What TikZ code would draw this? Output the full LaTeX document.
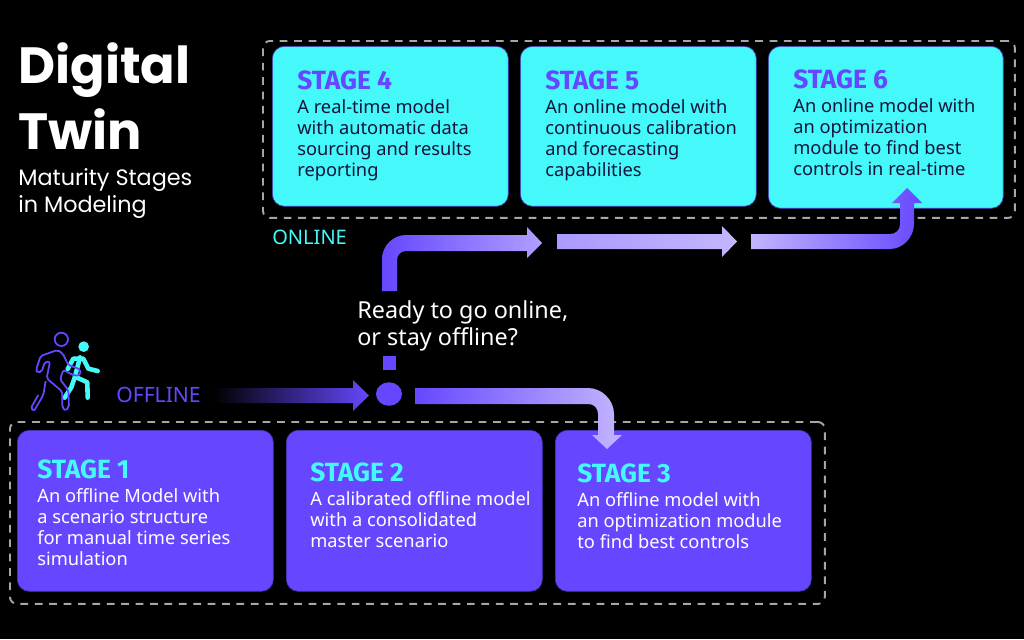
\documentclass[tikz,border=0pt]{standalone}
\usepackage{fontspec}
\usetikzlibrary{shapes.geometric}
\setmainfont{Noto Sans}
\newfontfamily\titlefont{Poppins}
\newfontfamily\headfont{Fira Sans}
\definecolor{twinpurple}{HTML}{6647FF}
\definecolor{twinlight}{HTML}{C4B5FF}
\definecolor{twincyan}{HTML}{45F8FA}
\definecolor{twindark}{HTML}{14143C}
\tikzset{
  offbox/.style={draw=twinpurple!70!black, fill=twinpurple, rounded corners=0.24cm, anchor=north west, inner sep=0pt, minimum height=3.22cm},
  onbox/.style={draw=twinpurple!70!black, fill=twincyan, rounded corners=0.24cm, anchor=north west, inner sep=0pt, minimum height=3.2cm},
  dashbox/.style={draw=black!35!white, line width=1.1pt, dash pattern=on 4.4pt off 3.8pt, rounded corners=0.14cm, anchor=north west, inner sep=0pt},
  stagehead/.style={anchor=base west, inner sep=0pt, font=\headfont\bfseries\fontsize{15}{18}\selectfont},
  stagebody/.style={anchor=north west, inner sep=0pt, align=left, font=\fontsize{10.4}{12}\selectfont},
  flowlabel/.style={anchor=base west, inner sep=0pt, font=\fontsize{12}{14}\selectfont},
}
\begin{document}
\begin{tikzpicture}[x=0.02cm, y=-0.02cm]
\fill[black] (0,0) rectangle (1024,639);
\useasboundingbox (0,0) rectangle (1024,639);
% title
\node[anchor=base west, inner sep=0pt, text=white, font=\titlefont\bfseries\fontsize{29}{34}\selectfont] (title1) at (18,83) {Digital};
\node[anchor=base west, inner sep=0pt, text=white, font=\titlefont\bfseries\fontsize{29}{34}\selectfont] (title2) at (18,149) {Twin};
\node[anchor=north west, inner sep=0pt, align=left, text=white, font=\titlefont\fontsize{12.7}{15.4}\selectfont] (subtitle) at (18,168) {Maturity Stages\\in Modeling};
% dashed frames
\node[dashbox, minimum width=15.04cm, minimum height=3.54cm] (onframe) at (262,40) {};
\node[dashbox, minimum width=16.3cm, minimum height=3.64cm] (offframe) at (9,421) {};
% online stages
\node[onbox, minimum width=4.72cm] (stage4) at (272,46) {};
\node[onbox, minimum width=4.72cm] (stage5) at (520,46) {};
\node[onbox, minimum width=4.7cm, minimum height=3.24cm] (stage6) at (768,46) {};
% offline stages
\node[offbox, minimum width=5.12cm] (stage1) at (17,430) {};
\node[offbox, minimum width=5.12cm] (stage2) at (286,430) {};
\node[offbox, minimum width=5.12cm] (stage3) at (555,430) {};
% stage texts
\node[stagehead, text=twinpurple] (head4) at (297,89) {STAGE 4};
\node[stagebody, text=twindark] (body4) at (297,99) {A real-time model\\with automatic data\\sourcing and results\\reporting};
\node[stagehead, text=twinpurple] (head5) at (545,89) {STAGE 5};
\node[stagebody, text=twindark] (body5) at (545,99) {An online model with\\continuous calibration\\and forecasting\\capabilities};
\node[stagehead, text=twinpurple] (head6) at (793,88) {STAGE 6};
\node[stagebody, text=twindark] (body6) at (793,98) {An online model with\\an optimization\\module to find best\\controls in real-time};
\node[stagehead, text=twincyan] (head1) at (37,478) {STAGE 1};
\node[stagebody, text=white] (body1) at (37,488) {An offline Model with\\a scenario structure\\for manual time series\\simulation};
\node[stagehead, text=twincyan] (head2) at (310,481) {STAGE 2};
\node[stagebody, text=white] (body2) at (310,491) {A calibrated offline model\\with a consolidated\\master scenario};
\node[stagehead, text=twincyan] (head3) at (577,482) {STAGE 3};
\node[stagebody, text=white] (body3) at (577,492) {An offline model with\\an optimization module\\to find best controls};
% labels
\node[flowlabel, text=twinpurple] (offlabel) at (116,402) {OFFLINE};
\node[flowlabel, text=twincyan, font=\fontsize{11.4}{14}\selectfont] (onlabel) at (272,244) {ONLINE};
\node[anchor=north west, inner sep=0pt, align=left, text=white, font=\fontsize{13.3}{15.8}\selectfont] (question) at (357,300) {Ready to go online,\\or stay offline?};
% decision mark
\node[fill=twinpurple, inner sep=0pt, minimum width=0.26cm, minimum height=0.28cm] (qsquare) at (389.5,363) {};
\node[ellipse, fill=twinpurple, inner sep=0pt, minimum width=0.52cm, minimum height=0.47cm] (split) at (389,394) {};
% arrows
\coordinate (offstart) at (213,388);
\coordinate (stayoff) at (415,388);
\coordinate (goon) at (382,291);
\coordinate (onmid) at (557,234);
\coordinate (onlast) at (751,234);
\shade[left color=black, right color=twinpurple]
  (offstart) -- ++(140,0) -- ++(0,-8) -- ++(16,15.5) -- ++(-16,15.5) -- ++(0,-8) -- ++(-140,0) -- cycle;
\shade[left color=twinpurple, right color=twinlight]
  (stayoff) -- ++(173,0) .. controls +(14,0) and +(0,-14) .. ++(26,26) -- ++(0,21) -- ++(8,0) -- ++(-15,14) -- ++(-15,-14) -- ++(6,0) -- ++(0,-21) .. controls +(0,-6) and +(6,0) .. ++(-10,-10) -- ++(-173,0) -- cycle;
\shade[left color=twinpurple, right color=twinlight!80!twinpurple]
  (goon) -- ++(0,-32) .. controls +(0,-13) and +(-13,0) .. ++(24,-24) -- ++(121,0) -- ++(0,-8) -- ++(15,16) -- ++(-15,15) -- ++(0,-7) -- ++(-121,0) .. controls +(-5,0) and +(0,-5) .. ++(-9,9) -- ++(0,31) -- cycle;
\shade[left color=twinlight!75!twinpurple, right color=twinlight]
  (onmid) -- ++(165,0) -- ++(0,-8) -- ++(15,15.5) -- ++(-15,15.5) -- ++(0,-8) -- ++(-165,0) -- cycle;
\shade[left color=twinlight, right color=twinpurple]
  (onlast) -- ++(139,0) .. controls +(6,0) and +(0,6) .. ++(10,-10) -- ++(0,-21) -- ++(-8,0) -- ++(15,-15) -- ++(15,15) -- ++(-8,0) -- ++(0,21) .. controls +(0,13) and +(13,0) .. ++(-24,25) -- ++(-139,0) -- cycle;
% walkers
\begin{scope}[shift={(0,320)}, x=0.00667cm, y=-0.00667cm]
\draw[twincyan, line width=2.6pt, line cap=round, line join=round] (240,112) -- (225,170) -- (262,187) -- (263,233) (225,170) -- (214,202) -- (194,233) (203,147) -- (220,116) -- (250,116) -- (265,146) -- (293,153);
\fill[twincyan] (251,80) circle[radius=16];
\draw[twinpurple, line width=1pt, line join=round, rounded corners=0.04cm] (184,58) circle[radius=20]
  (108,150) -- (122,108) -- (172,90) -- (188,100) -- (205,135) -- (240,148) -- (243,163) -- (225,168) -- (190,150) -- (180,178) -- (205,210) -- (207,262) -- (195,272) -- (187,262) -- (187,215) -- (140,175) -- (150,125) -- (135,125) -- (125,155) -- (112,158) -- cycle
  (137,183) -- (130,225) -- (102,273) -- (92,265) -- (115,225);
\end{scope}
\end{tikzpicture}
\end{document}
